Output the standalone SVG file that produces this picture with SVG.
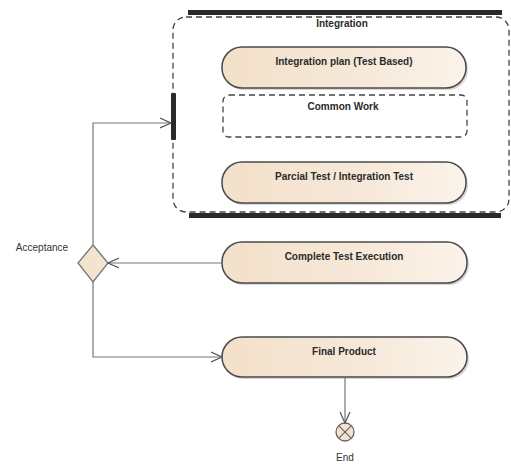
<svg xmlns="http://www.w3.org/2000/svg" width="511" height="464" viewBox="0 0 511 464">
<defs>
<linearGradient id="g" x1="0" y1="0" x2="1" y2="0">
<stop offset="0" stop-color="#f3e0c9"/>
<stop offset="0.55" stop-color="#f6e8d8"/>
<stop offset="1" stop-color="#fbf3ea"/>
</linearGradient>
<marker id="arr" viewBox="0 0 12 12" refX="11" refY="6" markerWidth="12" markerHeight="12" markerUnits="userSpaceOnUse" orient="auto">
<path d="M0,1 L11,6 L0,11" fill="none" stroke="#555" stroke-width="1.2"/>
</marker>
</defs>
<style>
.node{fill:url(#g);stroke:#4a4a4a;stroke-width:1.5}
.shadow{fill:#d8d8d8}
.lbl{font-family:"Liberation Sans",Arial,sans-serif;font-size:10px;font-weight:bold;fill:#2a2a2a;text-anchor:middle}
.txt{font-family:"Liberation Sans",Arial,sans-serif;font-size:10px;fill:#333}
.conn{fill:none;stroke:#777;stroke-width:1.2}
.bar{fill:#2a2a2a}
</style>
<rect width="511" height="464" fill="#fff"/>
<g id="integration">
<rect x="173" y="17" width="336" height="195" rx="13" fill="none" stroke="#444" stroke-width="1.3" stroke-dasharray="6,4"/>
<rect class="bar" x="188" y="10" width="314" height="5"/>
<rect class="bar" x="189" y="213" width="312" height="5"/>
<rect class="bar" x="171" y="93" width="5" height="47" rx="1"/>
<text class="lbl" x="342" y="27">Integration</text>
</g>
<g id="plan">
<rect class="shadow" x="224" y="49" width="244" height="41" rx="20"/>
<rect class="node" x="222" y="47" width="244" height="41" rx="20"/>
<text class="lbl" x="344" y="65">Integration plan (Test Based)</text>
</g>
<g id="common">
<rect x="223" y="95" width="244" height="42" rx="6" fill="#fff" stroke="#444" stroke-width="1.3" stroke-dasharray="6,4"/>
<text class="lbl" x="343" y="110">Common Work</text>
</g>
<g id="parcial">
<rect class="shadow" x="224" y="164" width="244" height="41" rx="20"/>
<rect class="node" x="222" y="162" width="244" height="41" rx="20"/>
<text class="lbl" x="344" y="180">Parcial Test / Integration Test</text>
</g>
<g id="complete">
<rect class="shadow" x="224" y="244" width="245" height="41" rx="20"/>
<rect class="node" x="222" y="242" width="245" height="41" rx="20"/>
<text class="lbl" x="344" y="260">Complete Test Execution</text>
</g>
<g id="final">
<rect class="shadow" x="224" y="339" width="245" height="40" rx="20"/>
<rect class="node" x="222" y="337" width="245" height="40" rx="20"/>
<text class="lbl" x="344" y="355">Final Product</text>
</g>
<g id="decision">
<path d="M93,245 L108,263 L93,282 L78,263 Z" fill="#f3e3cf" stroke="#777" stroke-width="1.3"/>
<text class="txt" x="42" y="251" text-anchor="middle">Acceptance</text>
</g>
<g id="end">
<circle cx="345" cy="432" r="9" fill="#f3e3cf" stroke="#666" stroke-width="1.3"/>
<path d="M338.6,425.6 L351.4,438.4 M351.4,425.6 L338.6,438.4" stroke="#666" stroke-width="1.2"/>
<text class="txt" x="345" y="461" text-anchor="middle">End</text>
</g>
<g id="connectors">
<path class="conn" d="M93,245 L93,123 L171,123" marker-end="url(#arr)"/>
<path class="conn" d="M222,263 L108,263" marker-end="url(#arr)"/>
<path class="conn" d="M93,282 L93,357 L222,357" marker-end="url(#arr)"/>
<path class="conn" d="M345,377 L345,423" marker-end="url(#arr)"/>
</g>
</svg>
